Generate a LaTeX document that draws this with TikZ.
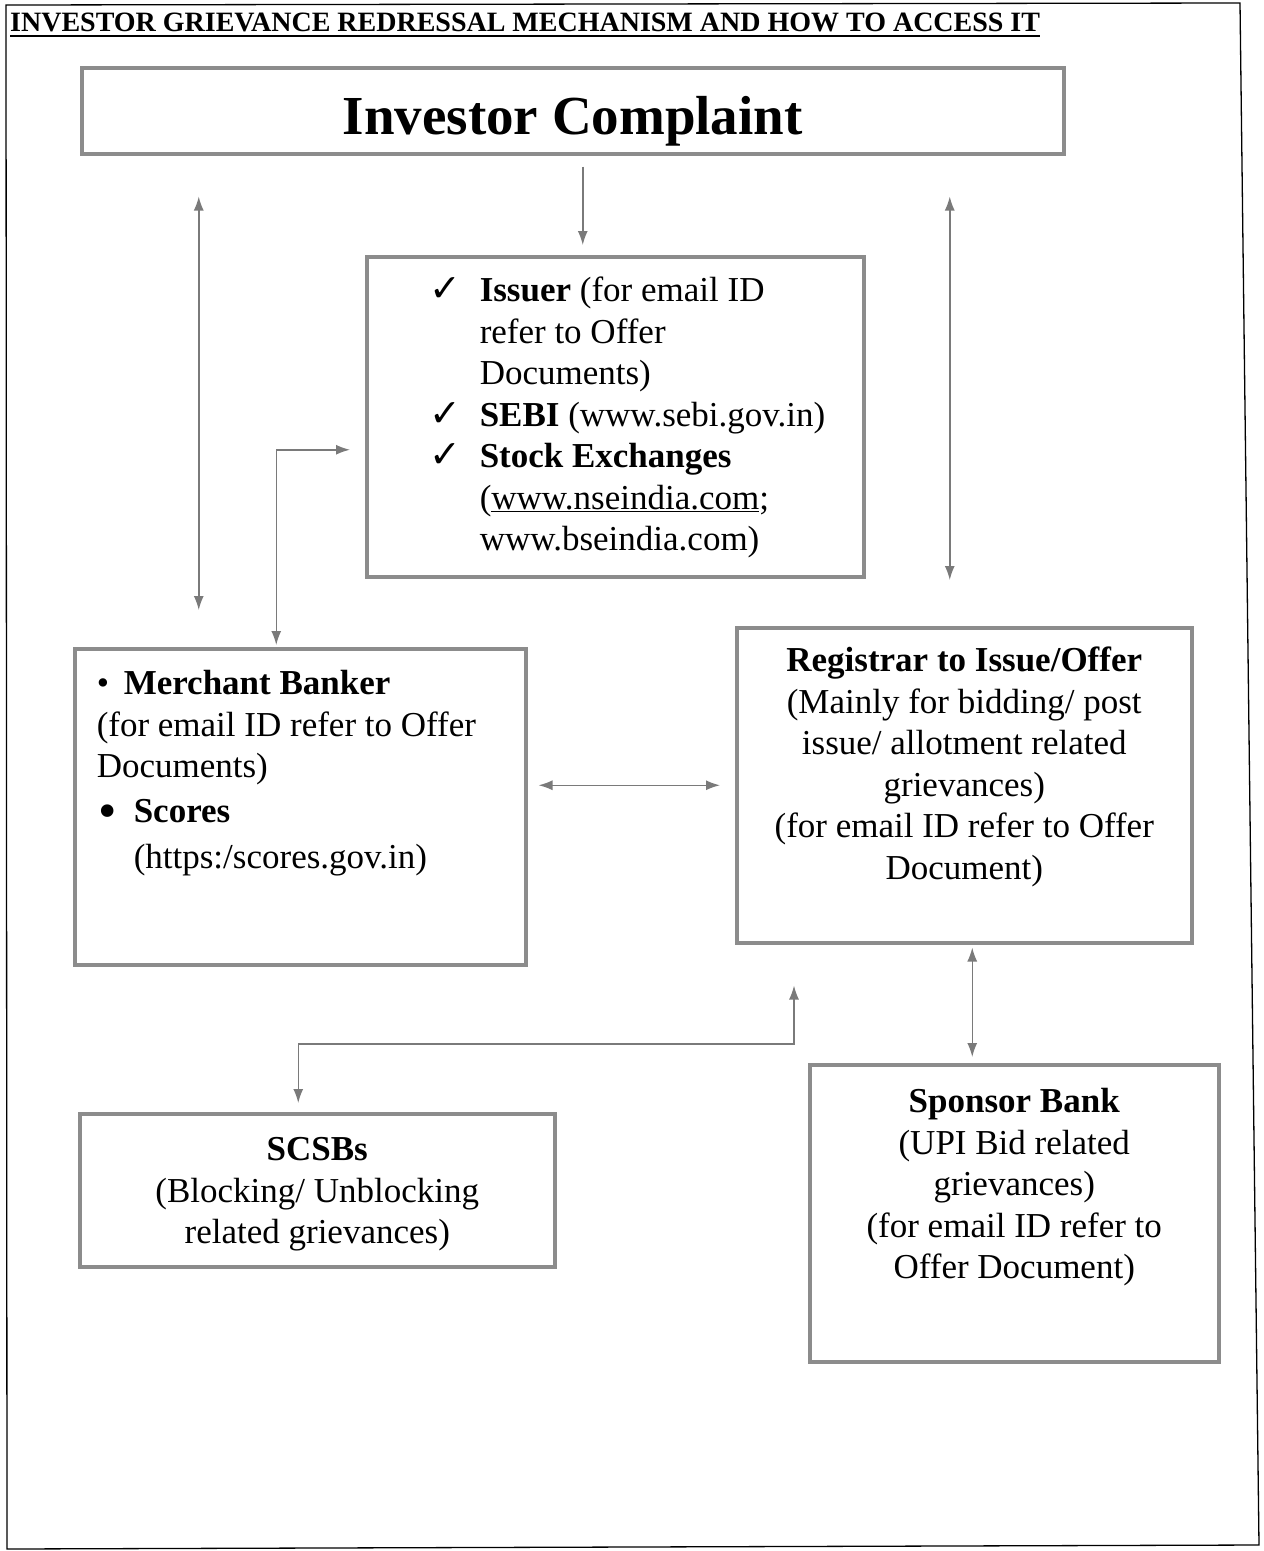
\documentclass[tikz,border=0pt]{standalone}
\usepackage{fontspec}
\setmainfont{Liberation Serif}
\newfontfamily\symbolfont{DejaVu Sans}
\usepackage{graphicx}
\usetikzlibrary{arrows.meta}
\definecolor{boxgray}{gray}{0.55}
\definecolor{linegray}{gray}{0.48}
\newcommand{\tick}{{\symbolfont\fontsize{38}{38}\selectfont ✓}}

\begin{document}
\begin{tikzpicture}[x=1pt,y=-1pt,
  box/.style={draw=boxgray,line width=3.5pt,inner sep=0pt,anchor=north west},
  link/.style={draw=linegray,line width=1.5pt,-{Latex[length=14pt,width=10pt]}},
  both/.style={link,{Latex[length=14pt,width=10pt]}-{Latex[length=14pt,width=10pt]}},
  body/.style={font=\fontsize{35}{41.5}\selectfont}]
\useasboundingbox (0,0) rectangle (1264,1551);
\draw[line width=1.3pt] (6,5) -- (1240,3) -- (1259,1545) -- (7,1549) -- cycle;

\node[anchor=base west,inner sep=0pt,font=\bfseries\fontsize{28}{30}\selectfont] (title) at (10,31)
  {INVESTOR GRIEVANCE REDRESSAL MECHANISM AND HOW TO ACCESS IT};
\draw[line width=2.5pt] ([yshift=-5pt]title.base west) -- ([yshift=-5pt]title.base east);

\node[box] (complaint) at (80,66) {\parbox[c][86pt][t]{982pt}{\centering\rule{0pt}{67pt}%
  \bfseries\fontsize{55}{60}\selectfont Investor Complaint}};

\node[box,body] (info) at (365,255) {\parbox[c][320pt][t]{497pt}{\leftskip=113pt
  \rule{0pt}{45pt}\llap{\tick\hspace{18pt}}\textbf{Issuer} (for email ID\\
  refer to Offer\\
  Documents)\\
  \llap{\tick\hspace{18pt}}\textbf{SEBI} (www.sebi.gov.in)\\
  \llap{\tick\hspace{18pt}}\textbf{Stock Exchanges}\\
  (\underline{www.nseindia.com};\\
  www.bseindia.com)}};

\node[box,body] (merchant) at (73,647) {\parbox[c][316pt][t]{451pt}{\leftskip=22pt
  \rule{0pt}{46pt}\makebox[27pt][l]{•}\textbf{Merchant Banker}\\
  (for email ID refer to Offer\\
  Documents)\\[3pt]
  \makebox[37pt][l]{\hspace{2pt}\raisebox{-6pt}{\scalebox{1.5}{•}}}\textbf{Scores}\\[5pt]
  \hspace*{37pt}(https:/scores.gov.in)}};

\node[box,body] (registrar) at (735,626) {\parbox[c][315pt][t]{455pt}{\centering
  \rule{0pt}{44pt}\textbf{Registrar to Issue/Offer}\\
  (Mainly for bidding/ post\\
  issue/ allotment related\\
  grievances)\\
  (for email ID refer to Offer\\
  Document)}};

\node[box,body] (scsb) at (78,1112) {\parbox[c][153pt][t]{475pt}{\centering
  \rule{0pt}{47pt}\textbf{SCSBs}\\
  (Blocking/ Unblocking\\
  related grievances)}};

\node[box,body] (sponsor) at (808,1063) {\parbox[c][297pt][t]{409pt}{\centering
  \rule{0pt}{48pt}\textbf{Sponsor Bank}\\
  (UPI Bid related\\
  grievances)\\
  (for email ID refer to\\
  Offer Document)}};

\draw[link,shorten <=11pt,shorten >=10pt] ([xshift=10pt]complaint.south) -- ([xshift=10pt]complaint.south |- info.north);
\foreach \dx/\tgt/\gap in {-374/merchant/37, 377/registrar/46}
  \draw[both,shorten <=41pt,shorten >=\gap pt] ([xshift=\dx pt]complaint.south) -- ([xshift=\dx pt]complaint.south |- \tgt.north);
\draw[both,shorten <=2pt,shorten >=15pt] ([xshift=-24pt]merchant.north) |- ([yshift=-33pt]info.west);
\draw[both,shorten <=11pt,shorten >=15pt] (merchant.east |- registrar.west) -- (registrar.west);
\draw[both,shorten <=3pt,shorten >=6pt] ([xshift=8pt]registrar.south) -- ([xshift=8pt]registrar.south |- sponsor.north);
\draw[both,shorten <=9pt,shorten >=41pt] ([xshift=-19pt]scsb.north) -- ++(0,-68) -| ([xshift=59pt]registrar.south west);

\end{tikzpicture}
\end{document}
